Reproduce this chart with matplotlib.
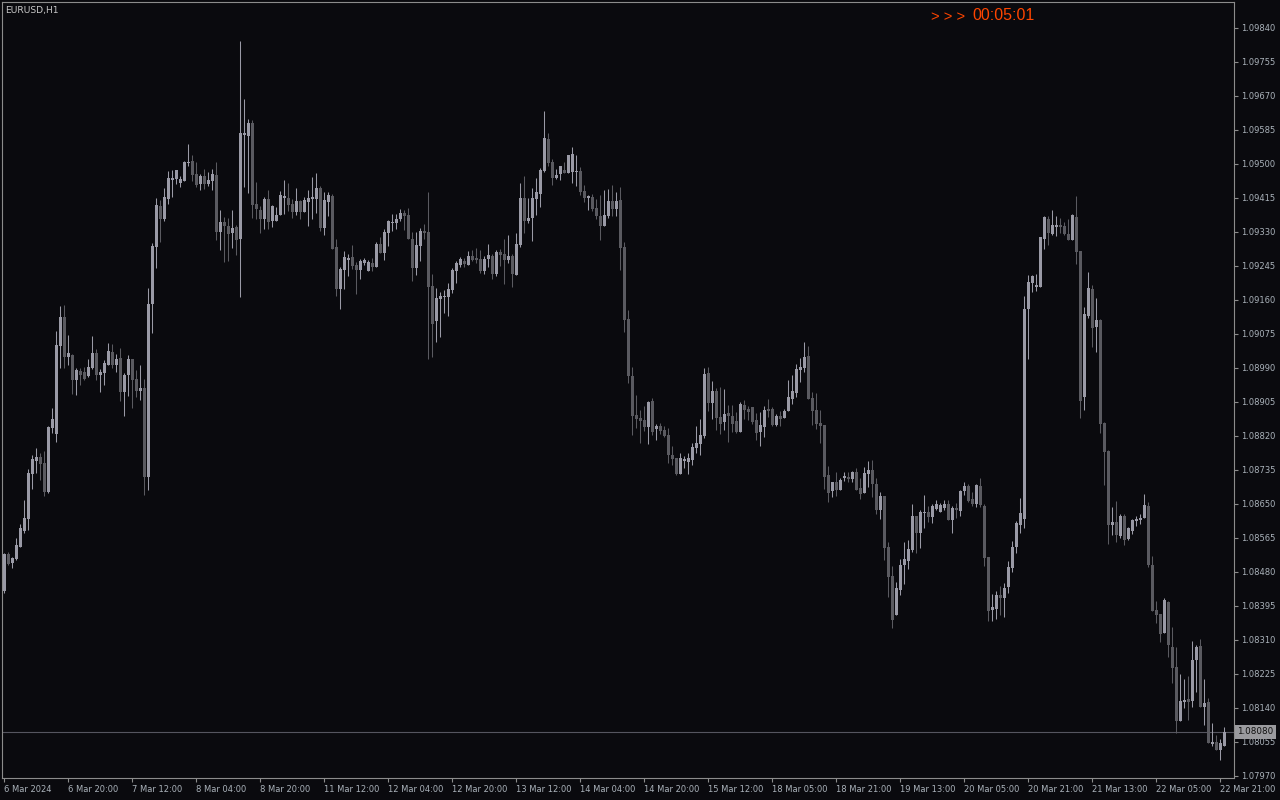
import matplotlib.pyplot as plt
import matplotlib.transforms as mtransforms
import numpy as np

# EURUSD H1, 6 Mar 2024 04:00 .. 22 Mar 2024 22:00
symbol = "EURUSD,H1"
timer_text = "00:05:01"
time_labels = ["6 Mar 2024", "6 Mar 20:00", "7 Mar 12:00", "8 Mar 04:00", "8 Mar 20:00",
               "11 Mar 12:00", "12 Mar 04:00", "12 Mar 20:00", "13 Mar 12:00", "14 Mar 04:00",
               "14 Mar 20:00", "15 Mar 12:00", "18 Mar 05:00", "18 Mar 21:00", "19 Mar 13:00",
               "20 Mar 05:00", "20 Mar 21:00", "21 Mar 13:00", "22 Mar 05:00", "22 Mar 21:00"]
label_step = 16  # one time label every 16 bars

open_ = [
    1.08433, 1.08525, 1.08503, 1.08513, 1.08543, 1.08583, 1.08613, 1.08725, 1.08758, 1.08768,
    1.08753, 1.08680, 1.08840, 1.08825, 1.09045, 1.09118, 1.09018, 1.09023, 1.08960, 1.08983,
    1.08980, 1.08970, 1.08990, 1.09028, 1.08973, 1.08978, 1.08998, 1.09030, 1.08998, 1.09015,
    1.08930, 1.08973, 1.09013, 1.08963, 1.08933, 1.08940, 1.08718, 1.09150, 1.09293, 1.09395,
    1.09363, 1.09413, 1.09460, 1.09463, 1.09453, 1.09458, 1.09503, 1.09508, 1.09475, 1.09450,
    1.09470, 1.09450, 1.09458, 1.09473, 1.09330, 1.09355, 1.09345, 1.09328, 1.09343, 1.09313,
    1.09573, 1.09570, 1.09603, 1.09400, 1.09385, 1.09363, 1.09413, 1.09358, 1.09358, 1.09373,
    1.09415, 1.09415, 1.09400, 1.09380, 1.09408, 1.09380, 1.09405, 1.09413, 1.09413, 1.09440,
    1.09340, 1.09405, 1.09420, 1.09293, 1.09188, 1.09235, 1.09260, 1.09268, 1.09248, 1.09235,
    1.09253, 1.09233, 1.09253, 1.09243, 1.09300, 1.09278, 1.09328, 1.09353, 1.09353, 1.09363,
    1.09378, 1.09373, 1.09313, 1.09240, 1.09295, 1.09333, 1.09330, 1.09195, 1.09108, 1.09163,
    1.09168, 1.09168, 1.09185, 1.09233, 1.09248, 1.09258, 1.09248, 1.09270, 1.09265, 1.09263,
    1.09233, 1.09263, 1.09270, 1.09225, 1.09280, 1.09275, 1.09260, 1.09270, 1.09223, 1.09298,
    1.09415, 1.09358, 1.09365, 1.09413, 1.09425, 1.09483, 1.09563, 1.09505, 1.09465, 1.09475,
    1.09485, 1.09478, 1.09480, 1.09480, 1.09483, 1.09433, 1.09415, 1.09418, 1.09390, 1.09370,
    1.09345, 1.09370, 1.09408, 1.09388, 1.09410, 1.09293, 1.09113, 1.08970, 1.08873, 1.08865,
    1.08860, 1.08843, 1.08908, 1.08838, 1.08845, 1.08835, 1.08823, 1.08773, 1.08765, 1.08725,
    1.08758, 1.08755, 1.08760, 1.08790, 1.08800, 1.08820, 1.08978, 1.08903, 1.08933, 1.08868,
    1.08855, 1.08878, 1.08870, 1.08858, 1.08830, 1.08898, 1.08888, 1.08893, 1.08860, 1.08830,
    1.08843, 1.08888, 1.08888, 1.08848, 1.08870, 1.08865, 1.08883, 1.08913, 1.08928, 1.08985,
    1.08990, 1.09020, 1.08915, 1.08885, 1.08853, 1.08848, 1.08723, 1.08683, 1.08705, 1.08685,
    1.08715, 1.08718, 1.08713, 1.08730, 1.08690, 1.08678, 1.08725, 1.08735, 1.08700, 1.08635,
    1.08670, 1.08543, 1.08470, 1.08373, 1.08435, 1.08498, 1.08508, 1.08535, 1.08620, 1.08578,
    1.08628, 1.08630, 1.08618, 1.08638, 1.08630, 1.08640, 1.08650, 1.08610, 1.08640, 1.08633,
    1.08683, 1.08695, 1.08663, 1.08650, 1.08695, 1.08645, 1.08518, 1.08385, 1.08388, 1.08423,
    1.08415, 1.08443, 1.08490, 1.08543, 1.08598, 1.08613, 1.09138, 1.09203, 1.09193, 1.09193,
    1.09313, 1.09363, 1.09325, 1.09343, 1.09348, 1.09345, 1.09325, 1.09310, 1.09368, 1.09283,
    1.08918, 1.09120, 1.09188, 1.09093, 1.09110, 1.08853, 1.08783, 1.08598, 1.08605, 1.08570,
    1.08620, 1.08563, 1.08583, 1.08608, 1.08610, 1.08615, 1.08645, 1.08498, 1.08385, 1.08375,
    1.08328, 1.08405, 1.08293, 1.08243, 1.08108, 1.08155, 1.08163, 1.08158, 1.08260, 1.08295,
    1.08143, 1.08155, 1.08050, 1.08055, 1.08035, 1.08045,
]

high = [
    1.08528, 1.08530, 1.08518, 1.08565, 1.08600, 1.08660, 1.08738, 1.08773, 1.08790, 1.08778,
    1.08783, 1.08845, 1.08890, 1.09083, 1.09145, 1.09148, 1.09073, 1.09025, 1.08990, 1.08990,
    1.08993, 1.09013, 1.09070, 1.09038, 1.08988, 1.09010, 1.09053, 1.09050, 1.09025, 1.09040,
    1.08978, 1.09023, 1.09013, 1.08985, 1.08998, 1.08963, 1.09190, 1.09303, 1.09415, 1.09410,
    1.09440, 1.09483, 1.09485, 1.09485, 1.09470, 1.09508, 1.09550, 1.09523, 1.09505, 1.09475,
    1.09488, 1.09480, 1.09488, 1.09505, 1.09385, 1.09368, 1.09365, 1.09385, 1.09348, 1.09808,
    1.09663, 1.09613, 1.09610, 1.09455, 1.09395, 1.09418, 1.09435, 1.09398, 1.09393, 1.09433,
    1.09460, 1.09453, 1.09413, 1.09440, 1.09410, 1.09418, 1.09435, 1.09468, 1.09478, 1.09445,
    1.09430, 1.09430, 1.09425, 1.09313, 1.09243, 1.09283, 1.09275, 1.09298, 1.09255, 1.09263,
    1.09265, 1.09260, 1.09265, 1.09305, 1.09318, 1.09338, 1.09360, 1.09375, 1.09375, 1.09388,
    1.09385, 1.09390, 1.09330, 1.09330, 1.09340, 1.09350, 1.09430, 1.09225, 1.09190, 1.09180,
    1.09185, 1.09203, 1.09240, 1.09258, 1.09268, 1.09265, 1.09283, 1.09285, 1.09290, 1.09285,
    1.09270, 1.09300, 1.09275, 1.09285, 1.09288, 1.09313, 1.09323, 1.09275, 1.09328, 1.09453,
    1.09470, 1.09415, 1.09440, 1.09465, 1.09490, 1.09633, 1.09578, 1.09513, 1.09488, 1.09495,
    1.09505, 1.09523, 1.09543, 1.09523, 1.09493, 1.09448, 1.09423, 1.09425, 1.09413, 1.09423,
    1.09435, 1.09438, 1.09448, 1.09430, 1.09443, 1.09305, 1.09135, 1.08993, 1.08923, 1.08885,
    1.08895, 1.08908, 1.08915, 1.08850, 1.08853, 1.08845, 1.08840, 1.08795, 1.08765, 1.08778,
    1.08770, 1.08778, 1.08803, 1.08845, 1.08863, 1.08990, 1.08993, 1.08958, 1.08940, 1.08943,
    1.08938, 1.08898, 1.08898, 1.08880, 1.08905, 1.08910, 1.08895, 1.08893, 1.08878, 1.08880,
    1.08895, 1.08913, 1.08893, 1.08875, 1.08883, 1.08888, 1.08960, 1.08973, 1.09000, 1.09015,
    1.09055, 1.09045, 1.08930, 1.08928, 1.08885, 1.08848, 1.08745, 1.08705, 1.08730, 1.08715,
    1.08730, 1.08730, 1.08733, 1.08740, 1.08715, 1.08743, 1.08758, 1.08760, 1.08715, 1.08680,
    1.08670, 1.08555, 1.08495, 1.08455, 1.08513, 1.08555, 1.08560, 1.08650, 1.08620, 1.08635,
    1.08673, 1.08645, 1.08650, 1.08660, 1.08653, 1.08660, 1.08660, 1.08645, 1.08653, 1.08685,
    1.08705, 1.08700, 1.08680, 1.08700, 1.08715, 1.08650, 1.08518, 1.08425, 1.08433, 1.08445,
    1.08453, 1.08508, 1.08558, 1.08608, 1.08665, 1.09170, 1.09223, 1.09223, 1.09225, 1.09318,
    1.09370, 1.09370, 1.09385, 1.09370, 1.09365, 1.09355, 1.09363, 1.09375, 1.09420, 1.09283,
    1.09143, 1.09230, 1.09198, 1.09165, 1.09113, 1.08855, 1.08785, 1.08643, 1.08658, 1.08625,
    1.08625, 1.08593, 1.08613, 1.08620, 1.08625, 1.08675, 1.08655, 1.08520, 1.08408, 1.08375,
    1.08415, 1.08408, 1.08343, 1.08293, 1.08225, 1.08213, 1.08220, 1.08308, 1.08298, 1.08313,
    1.08213, 1.08165, 1.08103, 1.08073, 1.08063, 1.08093,
]

low = [
    1.08428, 1.08498, 1.08490, 1.08510, 1.08543, 1.08578, 1.08585, 1.08688, 1.08728, 1.08710,
    1.08670, 1.08678, 1.08828, 1.08805, 1.08990, 1.08990, 1.08998, 1.08925, 1.08923, 1.08948,
    1.08960, 1.08968, 1.08988, 1.08960, 1.08930, 1.08948, 1.08998, 1.08990, 1.08980, 1.08908,
    1.08870, 1.08920, 1.08890, 1.08918, 1.08910, 1.08673, 1.08685, 1.09078, 1.09240, 1.09305,
    1.09358, 1.09400, 1.09418, 1.09450, 1.09443, 1.09458, 1.09495, 1.09458, 1.09443, 1.09435,
    1.09438, 1.09445, 1.09435, 1.09310, 1.09285, 1.09255, 1.09258, 1.09290, 1.09273, 1.09168,
    1.09443, 1.09428, 1.09365, 1.09363, 1.09328, 1.09338, 1.09338, 1.09343, 1.09358, 1.09373,
    1.09375, 1.09383, 1.09365, 1.09373, 1.09363, 1.09380, 1.09345, 1.09363, 1.09378, 1.09333,
    1.09323, 1.09370, 1.09288, 1.09170, 1.09138, 1.09188, 1.09220, 1.09238, 1.09175, 1.09213,
    1.09248, 1.09233, 1.09233, 1.09243, 1.09278, 1.09260, 1.09295, 1.09333, 1.09338, 1.09358,
    1.09335, 1.09313, 1.09208, 1.09223, 1.09258, 1.09313, 1.09013, 1.09018, 1.09055, 1.09068,
    1.09128, 1.09120, 1.09178, 1.09203, 1.09243, 1.09243, 1.09248, 1.09258, 1.09253, 1.09228,
    1.09225, 1.09243, 1.09213, 1.09220, 1.09245, 1.09200, 1.09253, 1.09193, 1.09223, 1.09293,
    1.09328, 1.09353, 1.09308, 1.09373, 1.09393, 1.09480, 1.09495, 1.09448, 1.09463, 1.09460,
    1.09478, 1.09478, 1.09453, 1.09445, 1.09423, 1.09405, 1.09385, 1.09383, 1.09363, 1.09310,
    1.09345, 1.09365, 1.09370, 1.09370, 1.09235, 1.09080, 1.08953, 1.08823, 1.08840, 1.08803,
    1.08833, 1.08800, 1.08823, 1.08810, 1.08825, 1.08818, 1.08753, 1.08748, 1.08723, 1.08725,
    1.08740, 1.08725, 1.08748, 1.08778, 1.08773, 1.08815, 1.08883, 1.08863, 1.08835, 1.08825,
    1.08835, 1.08805, 1.08830, 1.08828, 1.08830, 1.08863, 1.08860, 1.08850, 1.08810, 1.08795,
    1.08818, 1.08868, 1.08845, 1.08845, 1.08845, 1.08865, 1.08883, 1.08900, 1.08918, 1.08955,
    1.08980, 1.08913, 1.08848, 1.08838, 1.08803, 1.08688, 1.08655, 1.08668, 1.08670, 1.08685,
    1.08708, 1.08705, 1.08705, 1.08685, 1.08663, 1.08678, 1.08693, 1.08668, 1.08625, 1.08613,
    1.08510, 1.08418, 1.08340, 1.08373, 1.08423, 1.08450, 1.08488, 1.08530, 1.08528, 1.08540,
    1.08590, 1.08605, 1.08603, 1.08635, 1.08630, 1.08635, 1.08610, 1.08578, 1.08615, 1.08620,
    1.08673, 1.08655, 1.08645, 1.08643, 1.08643, 1.08495, 1.08358, 1.08358, 1.08363, 1.08373,
    1.08368, 1.08428, 1.08480, 1.08528, 1.08578, 1.08590, 1.09013, 1.09180, 1.09183, 1.09193,
    1.09288, 1.09298, 1.09323, 1.09320, 1.09328, 1.09323, 1.09310, 1.09310, 1.09250, 1.08865,
    1.08885, 1.09115, 1.09043, 1.09030, 1.08828, 1.08698, 1.08550, 1.08573, 1.08555, 1.08565,
    1.08548, 1.08560, 1.08575, 1.08595, 1.08600, 1.08615, 1.08493, 1.08383, 1.08353, 1.08305,
    1.08328, 1.08268, 1.08203, 1.08078, 1.08108, 1.08140, 1.08110, 1.08143, 1.08180, 1.08143,
    1.08098, 1.08053, 1.08045, 1.08035, 1.08010, 1.08045,
]

close = [
    1.08525, 1.08500, 1.08515, 1.08548, 1.08590, 1.08615, 1.08728, 1.08763, 1.08768, 1.08750,
    1.08680, 1.08843, 1.08863, 1.09048, 1.09118, 1.09018, 1.09028, 1.08960, 1.08985, 1.08973,
    1.08963, 1.08993, 1.09028, 1.08973, 1.08980, 1.09003, 1.09033, 1.08998, 1.09013, 1.08930,
    1.08973, 1.09013, 1.08960, 1.08933, 1.08940, 1.08718, 1.09150, 1.09295, 1.09398, 1.09363,
    1.09418, 1.09465, 1.09465, 1.09485, 1.09463, 1.09505, 1.09505, 1.09473, 1.09448, 1.09470,
    1.09450, 1.09460, 1.09475, 1.09330, 1.09355, 1.09345, 1.09325, 1.09340, 1.09310, 1.09578,
    1.09578, 1.09603, 1.09398, 1.09388, 1.09363, 1.09413, 1.09355, 1.09395, 1.09373, 1.09423,
    1.09420, 1.09398, 1.09380, 1.09408, 1.09380, 1.09410, 1.09415, 1.09418, 1.09440, 1.09340,
    1.09410, 1.09423, 1.09288, 1.09188, 1.09238, 1.09268, 1.09265, 1.09245, 1.09235, 1.09258,
    1.09260, 1.09255, 1.09243, 1.09300, 1.09278, 1.09330, 1.09358, 1.09355, 1.09363, 1.09378,
    1.09370, 1.09313, 1.09240, 1.09298, 1.09333, 1.09328, 1.09193, 1.09100, 1.09165, 1.09170,
    1.09170, 1.09188, 1.09235, 1.09253, 1.09263, 1.09250, 1.09270, 1.09260, 1.09260, 1.09233,
    1.09263, 1.09273, 1.09225, 1.09280, 1.09273, 1.09260, 1.09270, 1.09225, 1.09300, 1.09415,
    1.09358, 1.09365, 1.09415, 1.09430, 1.09485, 1.09565, 1.09503, 1.09465, 1.09473, 1.09495,
    1.09478, 1.09523, 1.09525, 1.09483, 1.09430, 1.09415, 1.09420, 1.09388, 1.09370, 1.09345,
    1.09373, 1.09408, 1.09388, 1.09408, 1.09290, 1.09110, 1.08970, 1.08870, 1.08863, 1.08858,
    1.08843, 1.08905, 1.08830, 1.08845, 1.08833, 1.08820, 1.08773, 1.08763, 1.08725, 1.08765,
    1.08763, 1.08765, 1.08793, 1.08803, 1.08823, 1.08975, 1.08903, 1.08933, 1.08865, 1.08850,
    1.08875, 1.08870, 1.08850, 1.08830, 1.08900, 1.08885, 1.08880, 1.08855, 1.08828, 1.08848,
    1.08885, 1.08883, 1.08848, 1.08870, 1.08863, 1.08883, 1.08918, 1.08933, 1.08988, 1.08993,
    1.09018, 1.08913, 1.08883, 1.08850, 1.08845, 1.08718, 1.08678, 1.08705, 1.08685, 1.08710,
    1.08720, 1.08713, 1.08730, 1.08685, 1.08675, 1.08728, 1.08735, 1.08700, 1.08635, 1.08670,
    1.08540, 1.08468, 1.08360, 1.08440, 1.08498, 1.08513, 1.08538, 1.08620, 1.08578, 1.08630,
    1.08630, 1.08618, 1.08645, 1.08650, 1.08648, 1.08650, 1.08610, 1.08640, 1.08635, 1.08683,
    1.08695, 1.08658, 1.08650, 1.08698, 1.08648, 1.08515, 1.08383, 1.08393, 1.08423, 1.08415,
    1.08440, 1.08493, 1.08543, 1.08603, 1.08628, 1.09138, 1.09205, 1.09220, 1.09198, 1.09318,
    1.09368, 1.09328, 1.09348, 1.09348, 1.09343, 1.09325, 1.09310, 1.09373, 1.09280, 1.08908,
    1.09125, 1.09190, 1.09090, 1.09110, 1.08850, 1.08780, 1.08598, 1.08605, 1.08573, 1.08620,
    1.08560, 1.08590, 1.08610, 1.08613, 1.08615, 1.08648, 1.08498, 1.08383, 1.08373, 1.08325,
    1.08410, 1.08298, 1.08240, 1.08108, 1.08158, 1.08160, 1.08155, 1.08260, 1.08293, 1.08143,
    1.08153, 1.08053, 1.08055, 1.08035, 1.08053, 1.08080,
]

# colours (dark MT4-like theme)
BG = "#0a0a0e"
BULL = "#9a9aa6"
BEAR = "#5a5a60"
FRAME = "#8c8c8c"
TXT = "#aab2ba"
TIMER = "#ff4500"

o = np.array(open_)
h = np.array(high)
l = np.array(low)
c = np.array(close)
x = np.arange(len(c))
up = c >= o

fig = plt.figure(figsize=(12.8, 8), dpi=100, facecolor=BG)
ax = fig.add_axes([2 / 1280, 22 / 800, 1232 / 1280, 776 / 800])
ax.set_facecolor(BG)

# current price line (under the candles)
ax.axhline(c[-1], color="#55555f", lw=0.8, zorder=1)

# wicks
ax.vlines(x[up], l[up], h[up], color=BULL, lw=0.75, zorder=2)
ax.vlines(x[~up], l[~up], h[~up], color=BEAR, lw=0.75, zorder=2)

# bodies
body_bot = np.minimum(o, c)
body_h = np.maximum(np.abs(c - o), 0.00002)
ax.bar(x[up], body_h[up], bottom=body_bot[up], width=0.75, color=BULL, linewidth=0, zorder=3)
ax.bar(x[~up], body_h[~up], bottom=body_bot[~up], width=0.75, color=BEAR, linewidth=0, zorder=3)

ax.set_xlim(-0.5, 307.5)
ax.set_ylim(1.07965, 1.09905)

# price scale on the right
yt = np.arange(1.07970, 1.09845, 0.00085)
ax.yaxis.tick_right()
ax.set_yticks(yt)
ax.set_yticklabels(["%.5f" % v for v in yt])
ax.tick_params(axis="y", colors=FRAME, labelcolor=TXT, labelsize=6, length=3, width=0.8, pad=2)

# time scale
xt = np.arange(0, len(c), label_step)
ax.set_xticks(xt)
ax.set_xticklabels(time_labels)
ax.tick_params(axis="x", colors=FRAME, labelcolor=TXT, labelsize=6, length=3, width=0.8, pad=2)
for lab in ax.get_xticklabels():
    lab.set_horizontalalignment("left")

for sp in ax.spines.values():
    sp.set_color(FRAME)
    sp.set_linewidth(0.8)

# current price tag on the scale
trans = mtransforms.blended_transform_factory(ax.transAxes, ax.transData)
ax.text(1.0025, c[-1], "%.5f" % c[-1], transform=trans, ha="left", va="center",
        fontsize=6.3, color="#101010", zorder=5, clip_on=False,
        bbox=dict(boxstyle="square,pad=0.25", facecolor="#9a9a9e", edgecolor="none"))

# symbol and bar timer
fig.text(5 / 1280, 1 - 10 / 800, symbol, color="#c8c8c8", fontsize=6.6, va="center", ha="left")
fig.text(931 / 1280, 1 - 17 / 800, "> > >", color=TIMER, fontsize=10.5,
         family="Liberation Sans", va="center", ha="left")
fig.text(972 / 1280, 1 - 16 / 800, timer_text, color=TIMER, fontsize=11.5,
         family="Liberation Sans", va="center", ha="left")

fig.savefig("out.png", dpi=100, facecolor=BG)
